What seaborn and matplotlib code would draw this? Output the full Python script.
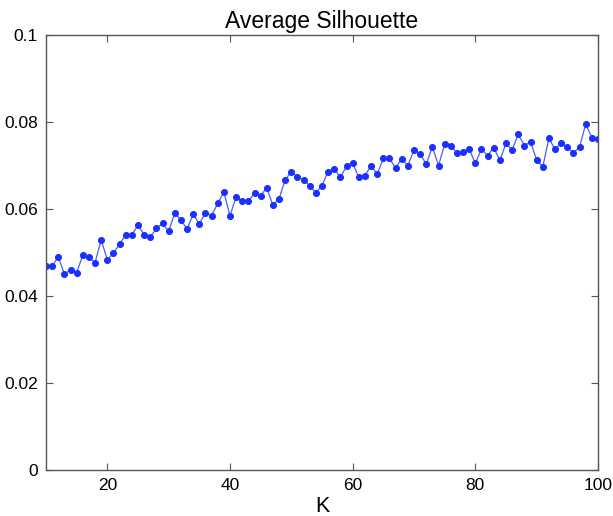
import numpy as np
import pandas as pd
import matplotlib
matplotlib.use("Agg")
import matplotlib.pyplot as plt
import seaborn as sns

# silhouette values, K = 10..100
k_values = list(range(10, 101))
silhouette = [
    0.0469, 0.0469, 0.0490, 0.0451, 0.0460, 0.0454, 0.0494, 0.0490, 0.0477, 0.0529,
    0.0484, 0.0498, 0.0520, 0.0541, 0.0541, 0.0563, 0.0541, 0.0535, 0.0556, 0.0567,
    0.0549, 0.0591, 0.0575, 0.0554, 0.0588, 0.0566, 0.0592, 0.0585, 0.0613, 0.0639,
    0.0585, 0.0628, 0.0618, 0.0618, 0.0637, 0.0631, 0.0649, 0.0609, 0.0624, 0.0667,
    0.0686, 0.0674, 0.0667, 0.0654, 0.0637, 0.0654, 0.0686, 0.0693, 0.0673, 0.0699,
    0.0706, 0.0673, 0.0677, 0.0700, 0.0680, 0.0717, 0.0717, 0.0694, 0.0716, 0.0700,
    0.0736, 0.0727, 0.0703, 0.0743, 0.0700, 0.0749, 0.0746, 0.0728, 0.0732, 0.0738,
    0.0705, 0.0738, 0.0723, 0.0741, 0.0712, 0.0751, 0.0736, 0.0772, 0.0746, 0.0755,
    0.0713, 0.0697, 0.0763, 0.0737, 0.0753, 0.0742, 0.0729, 0.0743, 0.0795, 0.0764,
    0.0761,
]
x_ticks = [20, 40, 60, 80, 100]
y_ticks = [0, 0.02, 0.04, 0.06, 0.08, 0.1]
y_tick_labels = ["0", "0.02", "0.04", "0.06", "0.08", "0.1"]

df = pd.DataFrame({"K": k_values, "silhouette": silhouette})

sns.set_style("ticks")
plt.rcParams["font.family"] = ["Liberation Sans", "DejaVu Sans"]
plt.rcParams["axes.edgecolor"] = "#555555"
plt.rcParams["text.color"] = "black"
plt.rcParams["axes.labelcolor"] = "black"
plt.rcParams["xtick.labelcolor"] = "black"
plt.rcParams["ytick.labelcolor"] = "black"

fig = plt.figure(figsize=(6.13, 5.16), dpi=100)
ax = fig.add_axes([0.075, 0.089, 0.9005, 0.843])

sns.lineplot(data=df, x="K", y="silhouette", ax=ax, color="#4a5cff", linewidth=0.9,
             marker="o", markersize=4.3, markerfacecolor="#1a30ff", markeredgecolor="#1a30ff")

ax.set_xlim(10, 100)
ax.set_ylim(0, 0.1)
ax.set_xticks(x_ticks)
ax.set_yticks(y_ticks)
ax.set_yticklabels(y_tick_labels)
ax.tick_params(direction="in", top=True, right=True, length=5, width=0.8,
               color="#555555", labelsize=12.5, pad=6)
for s in ax.spines.values():
    s.set_linewidth(1.0)

ax.set_xlabel("K", fontsize=15.5, labelpad=2)
ax.set_ylabel("")
ax.set_title("Average Silhouette", fontsize=16.5, pad=5)

fig.savefig("out.png", dpi=100)
